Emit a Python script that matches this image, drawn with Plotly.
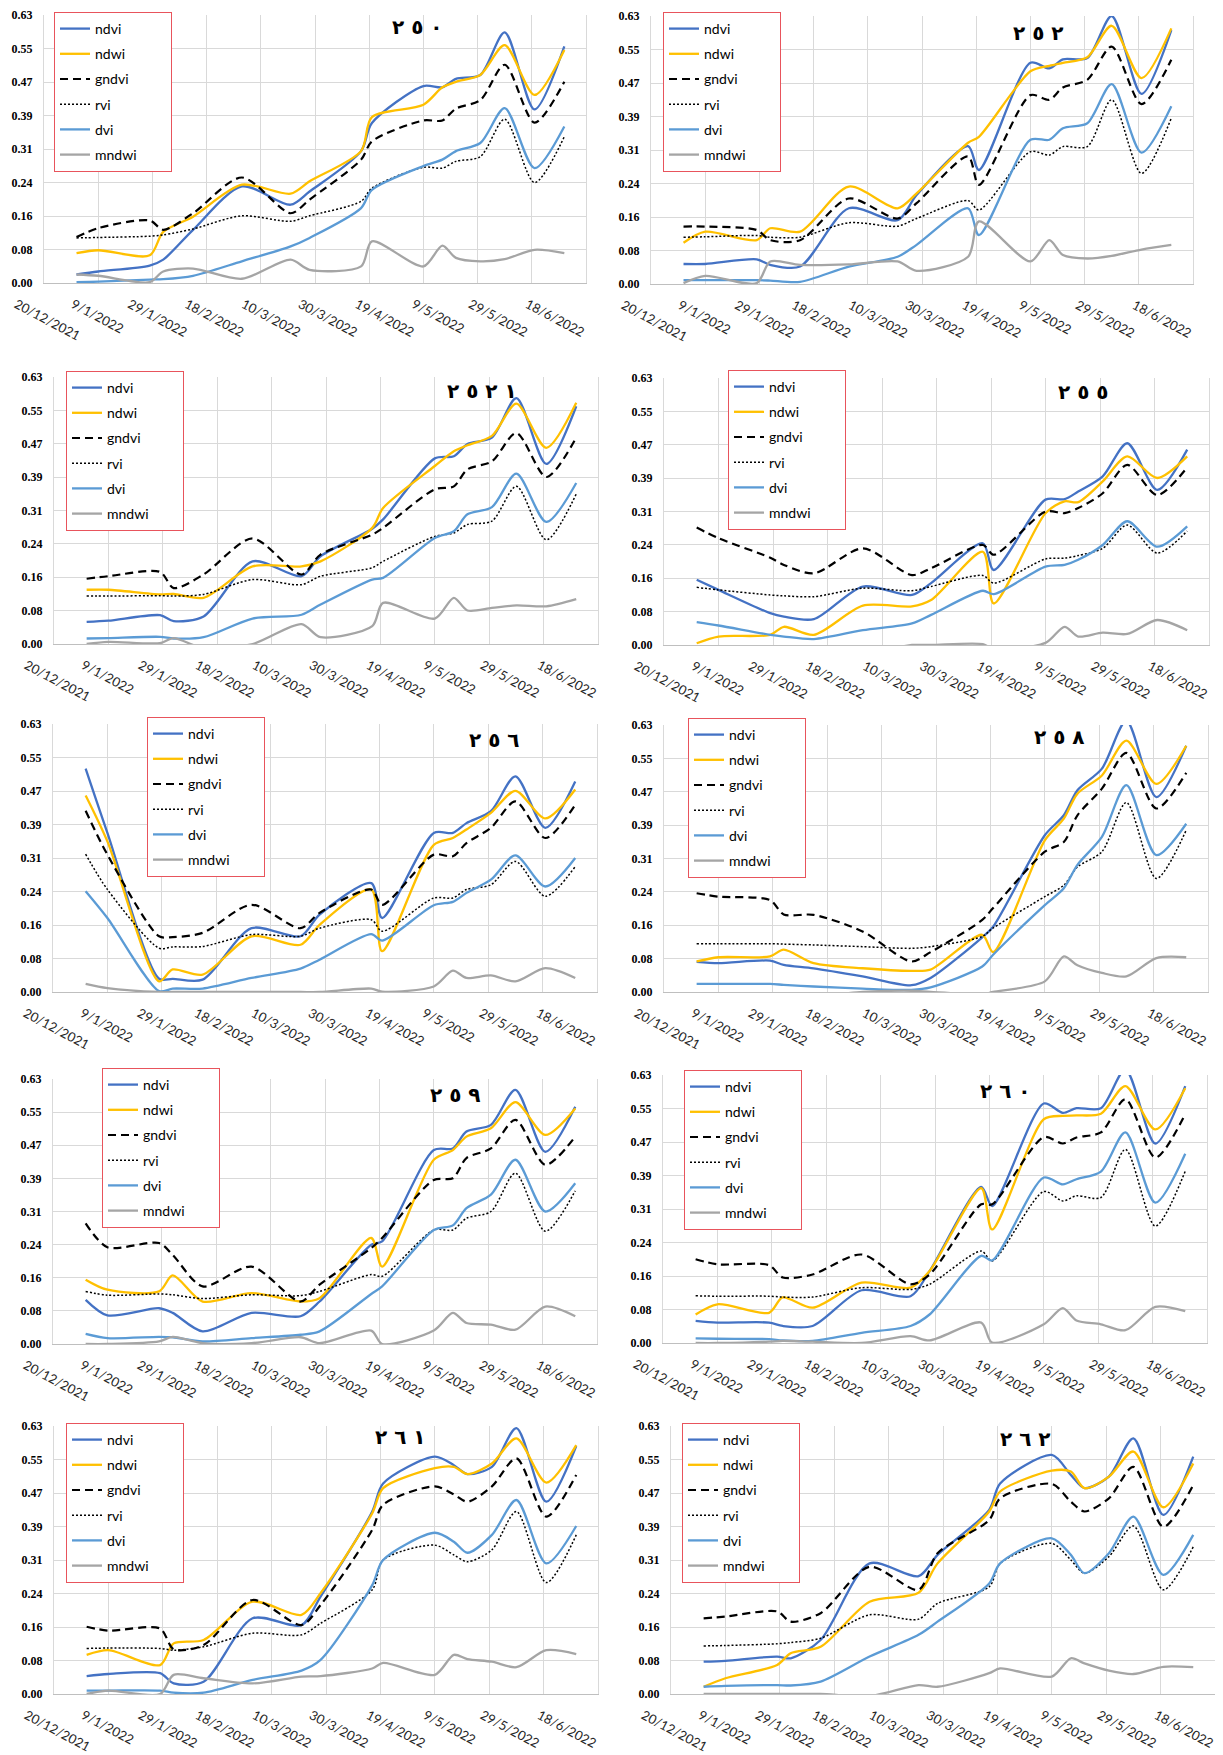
import datetime as dt
import plotly.graph_objects as go

# acquisition dates shared by all plots
dates = ["2022-01-01", "2022-01-09", "2022-01-28", "2022-02-02", "2022-02-13", "2022-03-03",
         "2022-03-21", "2022-03-28", "2022-04-16", "2022-04-20", "2022-05-09", "2022-05-16",
         "2022-05-21", "2022-05-30", "2022-06-08", "2022-06-19", "2022-06-30"]

tick_labels = ["20/12/2021", "9/1/2022", "29/1/2022", "18/2/2022", "10/3/2022",
               "30/3/2022", "19/4/2022", "9/5/2022", "29/5/2022", "18/6/2022"]
y_labels = ["0.00", "0.08", "0.16", "0.24", "0.31", "0.39", "0.47", "0.55", "0.63"]

series_names = ["ndvi", "ndwi", "gndvi", "rvi", "dvi", "mndwi"]
titles = ["٢٥٠", "٢٥٢", "٢٥٢١", "٢٥٥", "٢٥٦", "٢٥٨", "٢٥٩", "٢٦٠", "٢٦١", "٢٦٢"]

# ---- 250
p250_ndvi = [0.020, 0.027, 0.041, 0.055, 0.125, 0.227, 0.184, 0.215, 0.310, 0.376, 0.463, 0.460, 0.480, 0.489, 0.589, 0.408, 0.556]
p250_ndwi = [0.070, 0.077, 0.065, 0.120, 0.156, 0.231, 0.210, 0.239, 0.310, 0.390, 0.419, 0.460, 0.473, 0.489, 0.559, 0.442, 0.548]
p250_gndvi = [0.108, 0.129, 0.147, 0.125, 0.164, 0.248, 0.164, 0.196, 0.290, 0.333, 0.382, 0.382, 0.410, 0.430, 0.513, 0.377, 0.473]
p250_rvi = [0.106, 0.107, 0.110, 0.113, 0.127, 0.158, 0.145, 0.158, 0.192, 0.223, 0.272, 0.270, 0.286, 0.297, 0.385, 0.236, 0.344]
p250_dvi = [0.002, 0.003, 0.008, 0.009, 0.017, 0.051, 0.086, 0.106, 0.176, 0.219, 0.275, 0.290, 0.310, 0.329, 0.411, 0.270, 0.368]
p250_mndwi = [0.020, 0.017, 0.002, 0.027, 0.034, 0.010, 0.055, 0.031, 0.039, 0.098, 0.039, 0.088, 0.059, 0.051, 0.056, 0.078, 0.070]

# ---- 252
p252_ndvi = [0.047, 0.047, 0.058, 0.045, 0.041, 0.178, 0.150, 0.209, 0.324, 0.268, 0.520, 0.507, 0.528, 0.531, 0.630, 0.447, 0.597]
p252_ndwi = [0.097, 0.123, 0.103, 0.131, 0.123, 0.229, 0.178, 0.213, 0.332, 0.346, 0.500, 0.513, 0.520, 0.533, 0.607, 0.484, 0.601]
p252_gndvi = [0.135, 0.135, 0.127, 0.103, 0.103, 0.201, 0.154, 0.190, 0.300, 0.233, 0.444, 0.433, 0.462, 0.480, 0.558, 0.423, 0.527]
p252_rvi = [0.110, 0.111, 0.114, 0.110, 0.110, 0.144, 0.136, 0.154, 0.196, 0.174, 0.311, 0.303, 0.323, 0.323, 0.433, 0.260, 0.390]
p252_dvi = [0.009, 0.009, 0.009, 0.008, 0.005, 0.041, 0.064, 0.092, 0.178, 0.115, 0.339, 0.339, 0.366, 0.378, 0.470, 0.309, 0.418]
p252_mndwi = [0.002, 0.019, 0.002, 0.053, 0.045, 0.046, 0.053, 0.031, 0.064, 0.147, 0.053, 0.103, 0.068, 0.060, 0.066, 0.081, 0.092]

# ---- 2521
p2521_ndvi = [0.052, 0.055, 0.068, 0.054, 0.065, 0.195, 0.160, 0.207, 0.272, 0.294, 0.438, 0.443, 0.472, 0.487, 0.580, 0.425, 0.561]
p2521_ndwi = [0.128, 0.128, 0.117, 0.118, 0.109, 0.183, 0.183, 0.195, 0.274, 0.321, 0.420, 0.455, 0.469, 0.491, 0.567, 0.463, 0.569]
p2521_gndvi = [0.154, 0.160, 0.170, 0.132, 0.164, 0.249, 0.164, 0.211, 0.258, 0.274, 0.365, 0.372, 0.412, 0.431, 0.498, 0.394, 0.487]
p2521_rvi = [0.113, 0.113, 0.114, 0.113, 0.117, 0.152, 0.140, 0.160, 0.180, 0.195, 0.254, 0.262, 0.282, 0.290, 0.372, 0.246, 0.354]
p2521_dvi = [0.013, 0.014, 0.017, 0.013, 0.016, 0.060, 0.069, 0.093, 0.152, 0.156, 0.250, 0.266, 0.306, 0.323, 0.402, 0.288, 0.380]
p2521_mndwi = [0.000, 0.005, 0.002, 0.014, -0.010, 0.000, 0.047, 0.016, 0.042, 0.097, 0.060, 0.109, 0.079, 0.085, 0.091, 0.089, 0.106]

# ---- 255
p255_ndvi = [0.154, 0.130, 0.075, 0.067, 0.061, 0.138, 0.118, 0.146, 0.240, 0.177, 0.343, 0.344, 0.362, 0.398, 0.476, 0.366, 0.461]
p255_ndwi = [0.004, 0.020, 0.024, 0.043, 0.024, 0.093, 0.091, 0.106, 0.220, 0.098, 0.311, 0.339, 0.337, 0.386, 0.445, 0.394, 0.445]
p255_gndvi = [0.277, 0.252, 0.206, 0.189, 0.169, 0.228, 0.165, 0.181, 0.236, 0.213, 0.315, 0.311, 0.323, 0.358, 0.425, 0.354, 0.419]
p255_rvi = [0.136, 0.130, 0.118, 0.116, 0.114, 0.134, 0.128, 0.138, 0.164, 0.146, 0.203, 0.205, 0.211, 0.228, 0.283, 0.217, 0.269]
p255_dvi = [0.054, 0.046, 0.024, 0.020, 0.014, 0.035, 0.051, 0.071, 0.128, 0.120, 0.185, 0.189, 0.201, 0.236, 0.292, 0.232, 0.280]
p255_mndwi = [-0.020, -0.020, -0.020, -0.020, -0.020, -0.020, 0.000, 0.000, 0.002, -0.010, 0.005, 0.043, 0.020, 0.029, 0.026, 0.059, 0.035]

# ---- 256
p256_ndvi = [0.525, 0.374, 0.031, 0.031, 0.029, 0.150, 0.131, 0.182, 0.256, 0.174, 0.374, 0.374, 0.397, 0.425, 0.507, 0.386, 0.495]
p256_ndwi = [0.462, 0.354, 0.025, 0.053, 0.041, 0.131, 0.111, 0.158, 0.241, 0.096, 0.346, 0.362, 0.382, 0.421, 0.473, 0.408, 0.476]
p256_gndvi = [0.426, 0.323, 0.131, 0.129, 0.139, 0.205, 0.150, 0.186, 0.241, 0.205, 0.323, 0.319, 0.350, 0.386, 0.448, 0.362, 0.440]
p256_rvi = [0.324, 0.241, 0.103, 0.106, 0.107, 0.135, 0.131, 0.150, 0.170, 0.143, 0.221, 0.221, 0.241, 0.252, 0.307, 0.225, 0.295]
p256_dvi = [0.237, 0.174, 0.002, 0.008, 0.008, 0.033, 0.055, 0.076, 0.136, 0.121, 0.204, 0.212, 0.233, 0.264, 0.321, 0.248, 0.315]
p256_mndwi = [0.019, 0.009, 0.000, 0.000, 0.000, 0.000, 0.000, 0.000, 0.008, 0.001, 0.013, 0.050, 0.033, 0.039, 0.025, 0.056, 0.033]

# ---- 258
p258_ndvi = [0.071, 0.068, 0.074, 0.064, 0.056, 0.037, 0.016, 0.033, 0.129, 0.154, 0.370, 0.417, 0.476, 0.527, 0.640, 0.460, 0.581]
p258_ndwi = [0.072, 0.082, 0.084, 0.100, 0.068, 0.056, 0.050, 0.053, 0.135, 0.094, 0.358, 0.409, 0.468, 0.511, 0.593, 0.491, 0.581]
p258_gndvi = [0.233, 0.225, 0.217, 0.183, 0.182, 0.143, 0.072, 0.094, 0.170, 0.198, 0.331, 0.354, 0.417, 0.480, 0.564, 0.433, 0.517]
p258_rvi = [0.114, 0.114, 0.114, 0.113, 0.111, 0.107, 0.103, 0.107, 0.131, 0.151, 0.225, 0.252, 0.295, 0.331, 0.447, 0.268, 0.382]
p258_dvi = [0.019, 0.019, 0.019, 0.017, 0.013, 0.008, 0.005, 0.011, 0.060, 0.088, 0.205, 0.245, 0.300, 0.366, 0.488, 0.323, 0.397]
p258_mndwi = [-0.010, -0.010, -0.010, -0.010, -0.010, 0.000, 0.003, 0.000, -0.005, 0.000, 0.025, 0.084, 0.063, 0.045, 0.037, 0.080, 0.082]

# ---- 259
p259_ndvi = [0.105, 0.068, 0.085, 0.074, 0.030, 0.074, 0.066, 0.101, 0.236, 0.244, 0.461, 0.465, 0.505, 0.521, 0.604, 0.457, 0.564]
p259_ndwi = [0.153, 0.129, 0.125, 0.163, 0.101, 0.121, 0.101, 0.109, 0.252, 0.184, 0.438, 0.461, 0.493, 0.513, 0.575, 0.497, 0.560]
p259_gndvi = [0.287, 0.230, 0.240, 0.212, 0.137, 0.184, 0.101, 0.141, 0.228, 0.252, 0.390, 0.394, 0.442, 0.465, 0.533, 0.426, 0.493]
p259_rvi = [0.125, 0.116, 0.119, 0.117, 0.108, 0.117, 0.115, 0.125, 0.165, 0.161, 0.271, 0.271, 0.299, 0.315, 0.406, 0.268, 0.364]
p259_dvi = [0.024, 0.014, 0.017, 0.016, 0.006, 0.014, 0.022, 0.030, 0.119, 0.137, 0.271, 0.282, 0.323, 0.355, 0.438, 0.315, 0.382]
p259_mndwi = [0.000, 0.000, 0.006, 0.017, 0.002, 0.002, 0.016, 0.002, 0.032, 0.000, 0.032, 0.074, 0.050, 0.046, 0.034, 0.089, 0.066]

# ---- 260
p260_ndvi = [0.052, 0.048, 0.048, 0.040, 0.040, 0.124, 0.110, 0.169, 0.367, 0.322, 0.563, 0.541, 0.552, 0.552, 0.643, 0.469, 0.604]
p260_ndwi = [0.067, 0.091, 0.071, 0.107, 0.083, 0.142, 0.130, 0.169, 0.364, 0.267, 0.526, 0.534, 0.535, 0.539, 0.604, 0.502, 0.599]
p260_gndvi = [0.197, 0.185, 0.183, 0.154, 0.161, 0.208, 0.138, 0.161, 0.326, 0.326, 0.484, 0.469, 0.483, 0.495, 0.573, 0.436, 0.538]
p260_rvi = [0.111, 0.110, 0.110, 0.108, 0.108, 0.130, 0.126, 0.138, 0.216, 0.193, 0.356, 0.334, 0.346, 0.342, 0.455, 0.275, 0.404]
p260_dvi = [0.011, 0.010, 0.009, 0.006, 0.005, 0.024, 0.040, 0.067, 0.205, 0.194, 0.389, 0.373, 0.385, 0.403, 0.495, 0.330, 0.445]
p260_mndwi = [0.000, 0.000, 0.003, 0.005, 0.003, 0.000, 0.016, 0.006, 0.048, 0.001, 0.044, 0.082, 0.053, 0.044, 0.030, 0.085, 0.075]

# ---- 261
p261_ndvi = [0.042, 0.047, 0.049, 0.025, 0.029, 0.178, 0.162, 0.229, 0.429, 0.495, 0.558, 0.538, 0.517, 0.534, 0.625, 0.452, 0.583]
p261_ndwi = [0.092, 0.103, 0.068, 0.119, 0.127, 0.217, 0.186, 0.237, 0.425, 0.484, 0.531, 0.534, 0.517, 0.542, 0.601, 0.497, 0.585]
p261_gndvi = [0.158, 0.149, 0.154, 0.105, 0.115, 0.221, 0.162, 0.209, 0.386, 0.445, 0.488, 0.469, 0.452, 0.488, 0.554, 0.417, 0.515]
p261_rvi = [0.107, 0.108, 0.107, 0.103, 0.111, 0.143, 0.139, 0.166, 0.245, 0.315, 0.350, 0.327, 0.311, 0.339, 0.429, 0.262, 0.374]
p261_dvi = [0.008, 0.008, 0.008, 0.003, 0.003, 0.033, 0.055, 0.080, 0.256, 0.315, 0.379, 0.358, 0.332, 0.374, 0.456, 0.307, 0.395]
p261_mndwi = [0.000, 0.008, 0.000, 0.045, 0.037, 0.025, 0.041, 0.042, 0.060, 0.073, 0.045, 0.092, 0.082, 0.076, 0.063, 0.103, 0.094]

# ---- 262
p262_ndvi = [0.076, 0.078, 0.088, 0.084, 0.127, 0.307, 0.277, 0.327, 0.433, 0.495, 0.562, 0.515, 0.484, 0.511, 0.601, 0.421, 0.558]
p262_ndwi = [0.017, 0.037, 0.068, 0.096, 0.111, 0.217, 0.238, 0.307, 0.429, 0.476, 0.525, 0.523, 0.484, 0.511, 0.570, 0.439, 0.542]
p262_gndvi = [0.178, 0.182, 0.194, 0.170, 0.190, 0.299, 0.245, 0.331, 0.409, 0.460, 0.494, 0.452, 0.429, 0.460, 0.534, 0.393, 0.491]
p262_rvi = [0.113, 0.114, 0.118, 0.121, 0.131, 0.186, 0.176, 0.213, 0.252, 0.307, 0.354, 0.315, 0.284, 0.323, 0.395, 0.245, 0.346]
p262_dvi = [0.017, 0.019, 0.021, 0.020, 0.029, 0.088, 0.139, 0.170, 0.260, 0.307, 0.366, 0.327, 0.284, 0.331, 0.417, 0.280, 0.374]
p262_mndwi = [0.000, 0.000, 0.000, 0.000, 0.000, -0.005, 0.021, 0.017, 0.049, 0.060, 0.041, 0.084, 0.072, 0.055, 0.047, 0.064, 0.063]

panels_data = [
    [p250_ndvi, p250_ndwi, p250_gndvi, p250_rvi, p250_dvi, p250_mndwi],
    [p252_ndvi, p252_ndwi, p252_gndvi, p252_rvi, p252_dvi, p252_mndwi],
    [p2521_ndvi, p2521_ndwi, p2521_gndvi, p2521_rvi, p2521_dvi, p2521_mndwi],
    [p255_ndvi, p255_ndwi, p255_gndvi, p255_rvi, p255_dvi, p255_mndwi],
    [p256_ndvi, p256_ndwi, p256_gndvi, p256_rvi, p256_dvi, p256_mndwi],
    [p258_ndvi, p258_ndwi, p258_gndvi, p258_rvi, p258_dvi, p258_mndwi],
    [p259_ndvi, p259_ndwi, p259_gndvi, p259_rvi, p259_dvi, p259_mndwi],
    [p260_ndvi, p260_ndwi, p260_gndvi, p260_rvi, p260_dvi, p260_mndwi],
    [p261_ndvi, p261_ndwi, p261_gndvi, p261_rvi, p261_dvi, p261_mndwi],
    [p262_ndvi, p262_ndwi, p262_gndvi, p262_rvi, p262_dvi, p262_mndwi],
]

W, H = 1223, 1755
OFF = 8  # page body margin, positions below are in screen px


def px(x):
    return (x - OFF) / W


def py(y):
    return 1 - (y - OFF) / H


# gridlines every 20 days; Excel spreads the labels a little wider than the grid
start = dt.datetime(2021, 12, 20)
grid_dates = [(start + dt.timedelta(days=20 * k)).strftime("%Y-%m-%d") for k in range(10)]
label_pos = [(start + dt.timedelta(days=20.95 * k + 0.5)).strftime("%Y-%m-%d %H:%M") for k in range(10)]

# plot areas in px: x0, x1, top, bottom
boxes = [(44, 586, 15, 283), (651, 1193, 16, 284),
         (54, 598, 377, 644), (664, 1209, 378, 645),
         (53, 597, 724, 992), (664, 1208, 725, 992),
         (53, 597, 1079, 1344), (663, 1207, 1075, 1343),
         (54, 598, 1426, 1694), (671, 1215, 1426, 1694)]
# legend boxes: x0, y0, x1, y1 (px)
legend_boxes = [(54, 12, 170, 173), (663, 12, 782, 173),
                (66, 371, 184, 531), (728, 370, 847, 530),
                (147, 717, 265, 877), (688, 718, 806, 879),
                (102, 1068, 220, 1228), (684, 1070, 803, 1230),
                (66, 1423, 184, 1584), (682, 1423, 801, 1584)]
# title centres (px)
title_pos = [(417, 27), (1038, 33), (482, 391), (1083, 392), (494, 740),
             (1059, 737), (455, 1095), (1005, 1091), (400, 1437), (1025, 1439)]

styles = {
    "ndvi": dict(color="#4472C4", width=2.3),
    "ndwi": dict(color="#FFC000", width=2.3),
    "gndvi": dict(color="black", width=2.2, dash="8px,5px"),
    "rvi": dict(color="black", width=1.5, dash="2px,2px"),
    "dvi": dict(color="#5B9BD5", width=2.3),
    "mndwi": dict(color="#A5A5A5", width=2.3),
}

fig = go.Figure()
layout = dict(width=W, height=H, margin=dict(l=0, r=0, t=0, b=0, autoexpand=False),
              paper_bgcolor="white", plot_bgcolor="white", showlegend=True)
shapes, annotations = [], []
yvals = [k * 0.63 / 8 for k in range(9)]

for i, (vals, box, lb, tp, title) in enumerate(zip(panels_data, boxes, legend_boxes, title_pos, titles)):
    n = i + 1
    sfx = "" if n == 1 else str(n)
    leg = "legend" if n == 1 else f"legend{n}"
    for name, v in zip(series_names, vals):
        label = name + "\u00a0" * 8 if name == "mndwi" else name
        fig.add_trace(go.Scatter(
            x=dates, y=v, name=label, mode="lines",
            line=dict(shape="spline", smoothing=0.8, **styles[name]),
            xaxis=f"x{sfx}", yaxis=f"y{sfx}", legend=leg,
            legendgroup=f"{n}_{name}"))
    x0, x1, top, bot = box
    layout[f"xaxis{sfx}"] = dict(
        domain=[px(x0), px(x1)], anchor=f"y{sfx}", type="date",
        range=["2021-12-20", "2022-07-08"], tickvals=label_pos, ticktext=tick_labels,
        tickangle=28, tickfont=dict(family="Lato", size=13, color="#262626"),
        ticklabelshift=-29, ticklabelstandoff=8, ticklabeloverflow="allow",
        showgrid=False,
        minor=dict(tickvals=grid_dates, showgrid=True, gridcolor="#D9D9D9", gridwidth=1, ticks=""),
        showline=True, linecolor="#BFBFBF", linewidth=1.3, ticks="", zeroline=False)
    layout[f"yaxis{sfx}"] = dict(
        domain=[py(bot), py(top)], anchor=f"x{sfx}",
        range=[0, 0.63], tickvals=yvals, ticktext=y_labels,
        tickfont=dict(family="Liberation Serif", size=12, color="black", weight="bold"),
        showgrid=True, gridcolor="#D9D9D9", gridwidth=1,
        showline=True, mirror=True, linecolor="#D9D9D9", linewidth=1,
        ticks="", zeroline=False, ticklabelstandoff=8)
    lx0, ly0, lx1, ly1 = lb
    layout[leg] = dict(
        x=px(lx0), y=py(ly0), xanchor="left", yanchor="top",
        bgcolor="white", bordercolor="#E8545C", borderwidth=1,
        font=dict(family="Lato", size=14, color="black"),
        traceorder="grouped", tracegroupgap=4, itemwidth=30)
    # white area hiding gridlines around the legend
    shapes.append(dict(type="rect", xref="paper", yref="paper", layer="between",
                       x0=px(max(x0 + 1, lx0 - 7)), x1=px(lx1 + 9),
                       y0=py(ly1 + 6), y1=py(top - 1),
                       fillcolor="white", line=dict(width=0)))
    tx, ty = tp
    annotations.append(dict(
        text="\u00a0".join(title), xref="paper", yref="paper",
        x=px(tx), y=py(ty), xanchor="center", yanchor="middle", showarrow=False,
        font=dict(family="DejaVu Sans", size=20, color="black", weight="bold")))

layout["shapes"] = shapes
layout["annotations"] = annotations
fig.update_layout(**layout)
fig.write_html("out.html")
